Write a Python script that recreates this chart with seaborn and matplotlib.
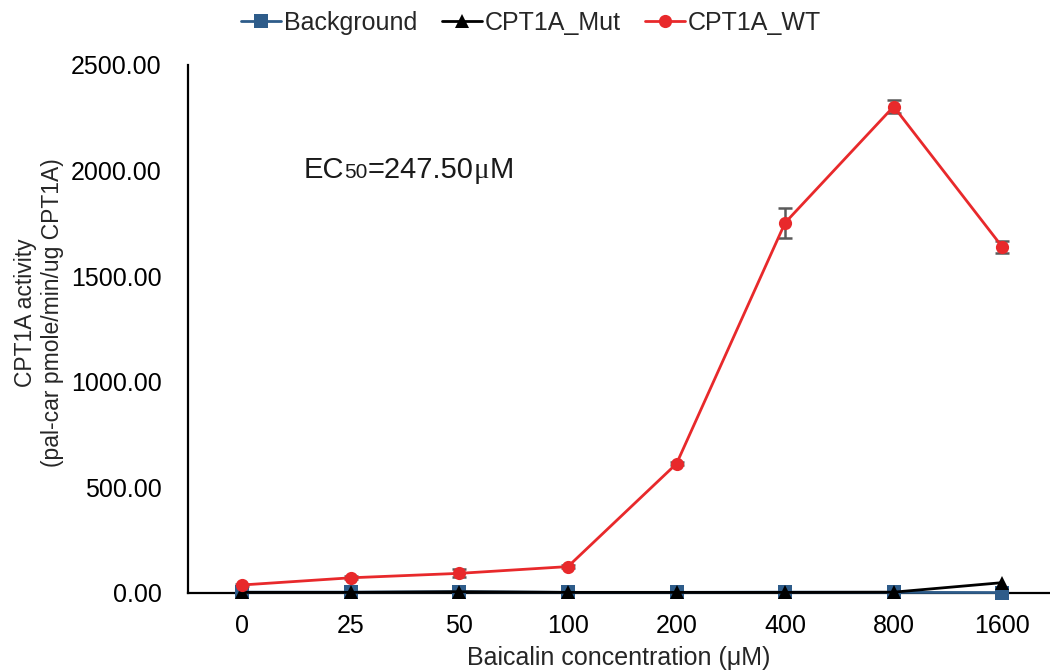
import numpy as np
import pandas as pd
import matplotlib
matplotlib.use("Agg")
import matplotlib.pyplot as plt
import seaborn as sns
from matplotlib.offsetbox import TextArea, HPacker, AnchoredOffsetbox

# ---- data ----
concentrations = ["0", "25", "50", "100", "200", "400", "800", "1600"]
series_names = ["Background", "CPT1A_Mut", "CPT1A_WT"]
background = [4, 4, 6, 3, 3, 4, 3, 2]
cpt1a_mut = [3, 3, 6, 3, 3, 3, 4, 49]
cpt1a_wt = [38, 72, 93, 125, 612, 1752, 2302, 1638]
cpt1a_wt_err = [5, 8, 19, 6, 8, 70, 32, 30]
y_ticks = [0, 500, 1000, 1500, 2000, 2500]

colors = {"Background": "#2E5C8A", "CPT1A_Mut": "#000000", "CPT1A_WT": "#E8292B"}
markers = {"Background": "s", "CPT1A_Mut": "^", "CPT1A_WT": "o"}

pos = np.arange(len(concentrations))
df = pd.concat([
    pd.DataFrame({"pos": pos, "value": vals, "series": name})
    for name, vals in zip(series_names, [background, cpt1a_mut, cpt1a_wt])
], ignore_index=True)

sns.set_style("white")
plt.rcParams["font.family"] = ["Liberation Sans", "DejaVu Sans"]

FS = 18
fig = plt.figure(figsize=(10.5, 6.7), dpi=100)
ax = fig.add_axes([188 / 1050, 1 - 593 / 670, 1 - 188 / 1050, (593 - 64.7) / 670])

# error bars (behind markers)
ax.errorbar(pos, cpt1a_wt, yerr=cpt1a_wt_err, fmt="none", ecolor="#5A5A5A",
            elinewidth=1.8, capsize=5, capthick=1.8, zorder=3)

sns.lineplot(data=df, x="pos", y="value", hue="series", style="series",
             hue_order=series_names, style_order=series_names,
             palette=colors, markers=markers, dashes=False,
             linewidth=2.0, markersize=9.5, markeredgewidth=0,
             ax=ax, zorder=4, clip_on=False, legend=True)
for ln in ax.lines:
    ln.set_clip_on(False)
    ln.set_zorder(4)

ax.set_xlim(-0.5, 7.44)
ax.set_ylim(0, 2500)
ax.set_yticks(y_ticks)
ax.set_yticklabels([f"{v:.2f}" for v in y_ticks])
ax.set_xticks(pos)
ax.set_xticklabels(concentrations)
ax.set_xticks(np.arange(-0.5, 7.5, 1.0), minor=True)
ax.tick_params(axis="x", which="major", length=0, labelsize=FS, pad=15, colors="black")
ax.tick_params(axis="x", which="minor", length=8, width=1.5, direction="out", colors="black")
ax.tick_params(axis="y", which="major", length=7, width=1.5, direction="out", labelsize=FS, pad=12, colors="black")

for s in ["top", "right"]:
    ax.spines[s].set_visible(False)
for s in ["left", "bottom"]:
    ax.spines[s].set_color("black")
    ax.spines[s].set_linewidth(1.6)
    ax.spines[s].set_zorder(2)

ax.set_xlabel("Baicalin concentration (\u03bcM)", fontsize=FS, labelpad=6)
ax.set_ylabel("CPT1A activity\n(pal-car pmole/min/ug CPT1A)", fontsize=16.5,
              linespacing=1.2)
ax.yaxis.set_label_coords(-0.144, 0.53)

# legend
handles, labels = ax.get_legend_handles_labels()
ax.get_legend().remove()
fig.legend(handles, labels, loc="center", bbox_to_anchor=(531 / 1050, 1 - 23 / 670),
           ncol=3, frameon=False, fontsize=FS, handlelength=1.6, handletextpad=0.1,
           columnspacing=1.0)

# EC50 annotation
parts = [
    TextArea("EC", textprops=dict(fontsize=21, color="#1a1a1a")),
    TextArea("50", textprops=dict(fontsize=15, color="#1a1a1a")),
    TextArea("=247.50", textprops=dict(fontsize=21, color="#1a1a1a")),
    TextArea("\u03bc", textprops=dict(fontsize=21, color="#1a1a1a", family="Liberation Serif")),
    TextArea("M", textprops=dict(fontsize=21, color="#1a1a1a")),
]
pack = HPacker(children=parts, align="baseline", pad=0, sep=0)
ab = AnchoredOffsetbox(loc="lower left", child=pack, pad=0, frameon=False,
                       bbox_to_anchor=(304 / 1050, 1 - 184 / 670),
                       bbox_transform=fig.transFigure, borderpad=0)
ax.add_artist(ab)

fig.savefig("out.png", dpi=100)
